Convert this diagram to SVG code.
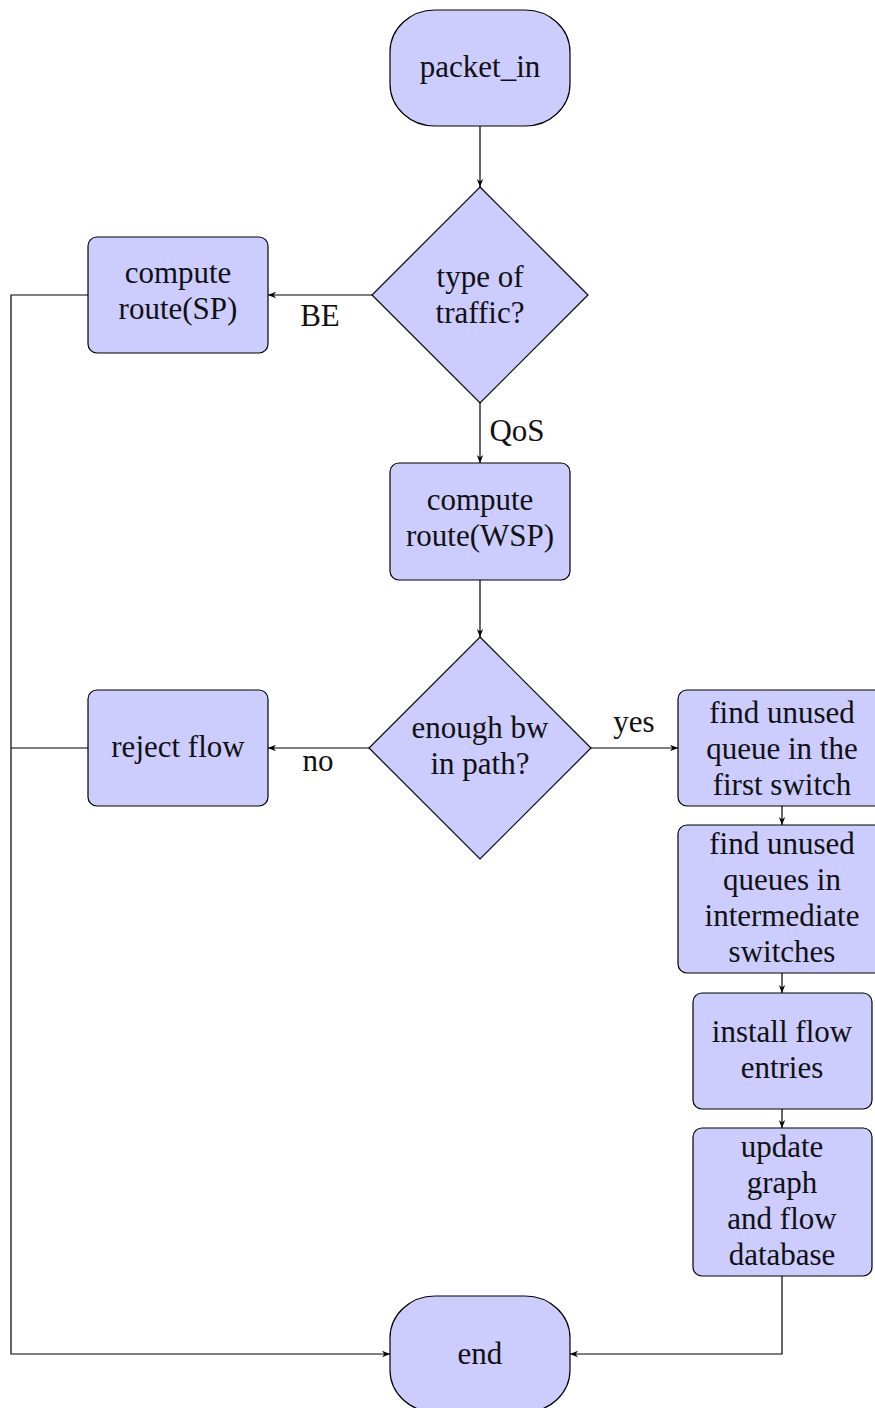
<svg xmlns="http://www.w3.org/2000/svg" width="875" height="1408" viewBox="0 0 875 1408">
  <style>
    .box { fill: #ccccff; stroke: #000; stroke-width: 1.2; }
    .t { font-family: 'Liberation Serif', 'Times New Roman', 'DejaVu Serif', serif; font-size: 31px; fill: #111; text-anchor: middle; }
    .edge { fill: none; stroke: #000; stroke-width: 1.2; }
  </style>
  <defs>
    <marker id="arr" viewBox="0 0 10 10" refX="10" refY="5" markerWidth="8" markerHeight="8" markerUnits="userSpaceOnUse" orient="auto">
      <path d="M0,1 L10,5 L0,9 L3,5 Z" fill="#000"/>
    </marker>
  </defs>
  <rect width="875" height="1408" fill="#fff"/>

  <g id="connectors">
    <path class="edge" d="M480,126 V187" marker-end="url(#arr)"/>
    <path class="edge" d="M372,295 H268" marker-end="url(#arr)"/>
    <path class="edge" d="M480,403 V463" marker-end="url(#arr)"/>
    <path class="edge" d="M480,580 V637" marker-end="url(#arr)"/>
    <path class="edge" d="M369,748 H268" marker-end="url(#arr)"/>
    <path class="edge" d="M591,748 H678" marker-end="url(#arr)"/>
    <path class="edge" d="M782,806 V825" marker-end="url(#arr)"/>
    <path class="edge" d="M782,973 V993" marker-end="url(#arr)"/>
    <path class="edge" d="M782,1109 V1128" marker-end="url(#arr)"/>
    <path class="edge" d="M88,295 H11 V1354 H390" marker-end="url(#arr)"/>
    <path class="edge" d="M88,748 H11"/>
    <path class="edge" d="M782,1276 V1354 H570" marker-end="url(#arr)"/>
    <text class="t" x="320" y="326">BE</text>
    <text class="t" x="517" y="441">QoS</text>
    <text class="t" x="318" y="771">no</text>
    <text class="t" x="634" y="732">yes</text>
  </g>

  <g id="start">
    <rect class="box" x="390" y="10" width="180" height="116" rx="45" ry="42"/>
    <text class="t" x="480" y="77">packet_in</text>
  </g>

  <g id="traffic-type">
    <polygon class="box" points="480,187 588,295 480,403 372,295"/>
    <text class="t" x="480" y="287">type of</text>
    <text class="t" x="480" y="323">traffic?</text>
  </g>

  <g id="route-sp">
    <rect class="box" x="88" y="237" width="180" height="116" rx="9"/>
    <text class="t" x="178" y="283">compute</text>
    <text class="t" x="178" y="319">route(SP)</text>
  </g>

  <g id="route-wsp">
    <rect class="box" x="390" y="463" width="180" height="117" rx="9"/>
    <text class="t" x="480" y="510">compute</text>
    <text class="t" x="480" y="546">route(WSP)</text>
  </g>

  <g id="bandwidth-check">
    <polygon class="box" points="480,637 591,748 480,859 369,748"/>
    <text class="t" x="480" y="738">enough bw</text>
    <text class="t" x="480" y="774">in path?</text>
  </g>

  <g id="reject">
    <rect class="box" x="88" y="690" width="180" height="116" rx="9"/>
    <text class="t" x="178" y="757">reject flow</text>
  </g>

  <g id="first-queue">
    <rect class="box" x="678" y="690" width="208" height="116" rx="9"/>
    <text class="t" x="782" y="723">find unused</text>
    <text class="t" x="782" y="759">queue in the</text>
    <text class="t" x="782" y="795">first switch</text>
  </g>

  <g id="intermediate-queues">
    <rect class="box" x="678" y="825" width="208" height="148" rx="9"/>
    <text class="t" x="782" y="854">find unused</text>
    <text class="t" x="782" y="890">queues in</text>
    <text class="t" x="782" y="926">intermediate</text>
    <text class="t" x="782" y="962">switches</text>
  </g>

  <g id="install-entries">
    <rect class="box" x="693" y="993" width="179" height="116" rx="9"/>
    <text class="t" x="782" y="1042">install flow</text>
    <text class="t" x="782" y="1078">entries</text>
  </g>

  <g id="update-db">
    <rect class="box" x="693" y="1128" width="179" height="148" rx="9"/>
    <text class="t" x="782" y="1157">update</text>
    <text class="t" x="782" y="1193">graph</text>
    <text class="t" x="782" y="1229">and flow</text>
    <text class="t" x="782" y="1265">database</text>
  </g>

  <g id="end">
    <rect class="box" x="390" y="1296" width="180" height="116" rx="45" ry="42"/>
    <text class="t" x="480" y="1364">end</text>
  </g>
</svg>
